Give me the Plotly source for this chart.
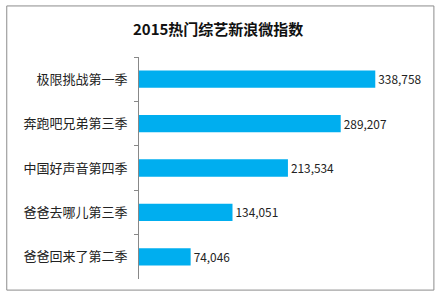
import plotly.graph_objects as go

shows = ["极限挑战第一季", "奔跑吧兄弟第三季", "中国好声音第四季", "爸爸去哪儿第三季", "爸爸回来了第二季"]
values = [338758, 289207, 213534, 134051, 74046]
title = "2015热门综艺新浪微指数"

fig = go.Figure(go.Bar(
    x=values, y=shows, orientation="h",
    marker=dict(color="#00AEEF", line=dict(width=0)),
    width=0.39,
    text=values, texttemplate="%{x:,}", textposition="outside",
    textfont=dict(size=13, color="#222"),
    cliponaxis=False,
))

fig.update_layout(
    width=439, height=299,
    margin=dict(l=139, r=21, t=57, b=20, autoexpand=False),
    paper_bgcolor="white", plot_bgcolor="white",
    font=dict(family="Noto Sans CJK SC, Microsoft YaHei, sans-serif", size=13, color="#222"),
    title=dict(text="<b>" + title + "</b>", x=0.497, xanchor="center", y=0.9, yanchor="middle",
               font=dict(size=15, color="#111")),
    showlegend=False,
    xaxis=dict(range=[0, 400000], visible=False, automargin=False),
    yaxis=dict(autorange="reversed", showline=True, linecolor="#888", linewidth=1,
               automargin=False,
               ticks="outside", tickson="boundaries", ticklen=4, tickcolor="#888",
               ticklabelstandoff=8, tickfont=dict(size=13, color="#222")),
    shapes=[dict(type="rect", xref="paper", yref="paper",
                 x0=-0.474, x1=1.057, y0=-0.05, y1=1.23,
                 line=dict(color="#8c8c8c", width=1), fillcolor="rgba(0,0,0,0)", layer="below")],
)

fig.write_html("out.html", config={"displayModeBar": False},
               post_script="document.body.style.margin='0';")
